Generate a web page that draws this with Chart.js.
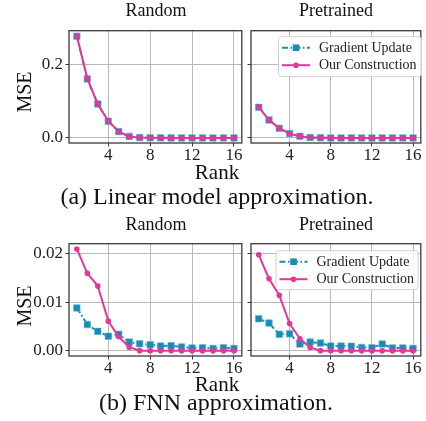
<!DOCTYPE html>
<html>
<head>
<meta charset="utf-8">
<script src="https://cdn.jsdelivr.net/npm/chart.js@4.4.1/dist/chart.umd.min.js"></script>
<style>
  html, body { margin: 0; padding: 0; background: #fff; }
  #fig { position: relative; width: 426px; height: 421px; overflow: hidden; font-family: 'Liberation Serif', serif; color: #111; }
  #fig canvas { position: absolute; }
  .txt { position: absolute; white-space: nowrap; line-height: 1; }
  .ctr { transform: translateX(-50%); }
  .rot { transform: translate(-50%, -50%) rotate(-90deg); }
</style>
</head>
<body>
<div id="fig">
  <canvas id="c-lin-rand"></canvas>
  <canvas id="c-lin-pre"></canvas>
  <canvas id="c-fnn-rand"></canvas>
  <canvas id="c-fnn-pre"></canvas>

  <div class="txt ctr" style="left:156px; top:1px; font-size:18px;">Random</div>
  <div class="txt ctr" style="left:336px; top:1px; font-size:18px;">Pretrained</div>
  <div class="txt rot" style="left:24px; top:92px; font-size:20px;">MSE</div>
  <div class="txt ctr" style="left:217px; top:162px; font-size:21px;">Rank</div>
  <div class="txt ctr" style="left:217px; top:184px; font-size:24px;">(a) Linear model approximation.</div>

  <div class="txt ctr" style="left:156px; top:215px; font-size:18px;">Random</div>
  <div class="txt ctr" style="left:336px; top:215px; font-size:18px;">Pretrained</div>
  <div class="txt rot" style="left:24px; top:306px; font-size:20px;">MSE</div>
  <div class="txt ctr" style="left:217px; top:374px; font-size:21px;">Rank</div>
  <div class="txt ctr" style="left:216px; top:390px; font-size:24px;">(b) FNN approximation.</div>
</div>

<script>
  'use strict';

  // ---- data ----
  var ranks = [1, 2, 3, 4, 5, 6, 7, 8, 9, 10, 11, 12, 13, 14, 15, 16];
  var xTicks = [4, 8, 12, 16];
  var linYTicks = [0, 0.2];
  var fnnYTicks = [0, 0.01, 0.02];

  var linRandGrad = [0.276, 0.160, 0.092, 0.045, 0.017, 0.004, 0.0008, 0.0002, 0.0001, 0, 0, 0, 0, 0, 0, 0];
  var linRandOurs = [0.277, 0.161, 0.0915, 0.046, 0.0168, 0.0038, 0.0006, 0.0001, 0, 0, 0, 0, 0, 0, 0, 0];
  var linPreGrad = [0.083, 0.0487, 0.026, 0.0118, 0.0041, 0.001, 0.0002, 0, 0, 0, 0, 0, 0, 0, 0, 0];
  var linPreOurs = [0.0835, 0.0485, 0.0262, 0.0116, 0.004, 0.001, 0.0002, 0, 0, 0, 0, 0, 0, 0, 0, 0];

  var fnnRandGrad = [0.0088, 0.0054, 0.0040, 0.0030, 0.0034, 0.0018, 0.00145, 0.00126, 0.0010, 0.00105, 0.0008, 0.0006, 0.00065, 0.0005, 0.00065, 0.0005];
  var fnnRandOurs = [0.0209, 0.0159, 0.0133, 0.0061, 0.0029, 0.00076, 0.00005, 0.00003, 0.00002, 0.00002, 0.00001, 0.00001, 0.00001, 0.00001, 0.00001, 0.00001];
  var fnnPreGrad = [0.0066, 0.0057, 0.0034, 0.0035, 0.0014, 0.0018, 0.0016, 0.0010, 0.0010, 0.00095, 0.0007, 0.00065, 0.0014, 0.0006, 0.0006, 0.0005];
  var fnnPreOurs = [0.0197, 0.0148, 0.0114, 0.0056, 0.0025, 0.0007, 0.00005, 0.00003, 0.00002, 0.00002, 0.00001, 0.00001, 0.00001, 0.00001, 0.00001, 0.00001];

  var seriesNames = ['Gradient Update', 'Our Construction'];

  var BLUE = '#1a8bb3';
  var PINK = '#e5369b';
  var GRID = '#b8b8b8';
  var FRAME = '#3a3a3a';
  var GRAD_DASH = [6, 2.5, 1.5, 2.5];
  var FONT = 'Liberation Serif';

  function points(vals) {
    return ranks.map(function (r, i) { return { x: r, y: vals[i] }; });
  }

  // frame around the plot area, like matplotlib spines
  var framePlugin = {
    id: 'frame',
    afterDraw: function (chart) {
      var a = chart.chartArea, ctx = chart.ctx;
      ctx.save();
      ctx.strokeStyle = FRAME;
      ctx.lineWidth = 1.3;
      ctx.strokeRect(a.left, a.top, a.right - a.left, a.bottom - a.top);
      ctx.restore();
    }
  };

  // legend box drawn inside the plot area
  var boxLegendPlugin = {
    id: 'boxLegend',
    afterDraw: function (chart, args, opts) {
      if (!opts.show) return;
      var a = chart.chartArea, ctx = chart.ctx;
      var bx = a.left + opts.x, by = a.top + opts.y;
      var w = opts.w, h = opts.h;
      ctx.save();
      ctx.fillStyle = 'rgba(255,255,255,0.85)';
      ctx.strokeStyle = '#d0d0d0';
      ctx.lineWidth = 1;
      ctx.beginPath();
      ctx.roundRect(bx + 0.5, by + 0.5, w, h, 3);
      ctx.fill();
      ctx.stroke();

      var styles = [
        { color: BLUE, dash: GRAD_DASH, marker: 'rect' },
        { color: PINK, dash: [], marker: 'circle' }
      ];
      ctx.font = '14px "' + FONT + '"';
      ctx.textBaseline = 'middle';
      styles.forEach(function (s, i) {
        var cy = by + 11.5 + i * 17.5;
        var x0 = bx + 4, x1 = x0 + 28;
        ctx.strokeStyle = s.color;
        ctx.lineWidth = 2;
        ctx.setLineDash(s.dash);
        ctx.beginPath();
        ctx.moveTo(x0, cy);
        ctx.lineTo(x1, cy);
        ctx.stroke();
        ctx.setLineDash([]);
        ctx.fillStyle = s.color;
        var mx = (x0 + x1) / 2;
        if (s.marker === 'rect') {
          ctx.fillRect(mx - 3.3, cy - 3.3, 6.6, 6.6);
        } else {
          ctx.beginPath();
          ctx.arc(mx, cy, 2.8, 0, Math.PI * 2);
          ctx.fill();
        }
        ctx.fillStyle = '#222';
        ctx.fillText(seriesNames[i], x1 + 9, cy + 0.5);
      });
      ctx.restore();
    }
  };

  function makePanel(id, area, gradVals, oursVals, yTicks, yRange, showYLabels, legend, yFmt) {
    var canvas = document.getElementById(id);
    var padL = 60, padT = 4, padR = 4, padB = 34;
    var w = area.w + padL + padR, h = area.h + padT + padB;
    canvas.width = w;
    canvas.height = h;
    canvas.style.width = w + 'px';
    canvas.style.height = h + 'px';
    canvas.style.left = (area.left - padL) + 'px';
    canvas.style.top = (area.top - padT) + 'px';

    return new Chart(canvas, {
      type: 'line',
      data: {
        datasets: [
          {
            label: seriesNames[1],
            data: points(oursVals),
            borderColor: PINK,
            backgroundColor: PINK,
            borderWidth: 2,
            pointStyle: 'circle',
            pointRadius: 2.8,
            pointBorderWidth: 0,
            tension: 0,
            order: 0,
          },
          {
            label: seriesNames[0],
            data: points(gradVals),
            borderColor: BLUE,
            backgroundColor: BLUE,
            borderWidth: 2,
            borderDash: GRAD_DASH,
            pointStyle: 'rect',
            pointRadius: 4.6,
            pointBorderColor: '#5fb6d4',
            pointBorderWidth: 0.6,
            tension: 0,
            order: 1,
          },
        ],
      },
      options: {
        responsive: false,
        animation: false,
        devicePixelRatio: 1,
        layout: { padding: { left: 0, top: padT, right: padR, bottom: 0 } },
        plugins: {
          legend: { display: false },
          tooltip: { enabled: false },
          boxLegend: legend,
        },
        scales: {
          x: {
            type: 'linear',
            min: 0.25,
            max: 16.75,
            afterBuildTicks: function (axis) {
              axis.ticks = xTicks.map(function (v) { return { value: v }; });
            },
            afterFit: function (axis) { axis.height = padB; },
            grid: { color: GRID, lineWidth: 1, tickColor: FRAME, tickLength: 3.5, drawTicks: true },
            border: { display: false },
            ticks: {
              color: '#222',
              font: { family: FONT, size: 17 },
              padding: -1,
              maxRotation: 0,
              autoSkip: false,
              callback: function (v) { return String(v); },
            },
          },
          y: {
            type: 'linear',
            min: yRange[0],
            max: yRange[1],
            afterBuildTicks: function (axis) {
              axis.ticks = yTicks.map(function (v) { return { value: v }; });
            },
            afterFit: function (axis) { axis.width = padL; },
            grid: { color: GRID, lineWidth: 1, tickColor: FRAME, tickLength: 3.5, drawTicks: true },
            border: { display: false },
            ticks: {
              color: '#222',
              font: { family: FONT, size: 17 },
              padding: 2.5,
              autoSkip: false,
              callback: function (v) { return showYLabels ? yFmt(v) : ''; },
            },
          },
        },
      },
      plugins: [framePlugin, boxLegendPlugin],
    });
  }

  var linRange = [-0.0139, 0.291];
  var fnnRange = [-0.00105, 0.02198];
  var fmt1 = function (v) { return v.toFixed(1); };
  var fmt2 = function (v) { return v.toFixed(2); };
  var noLegend = { show: false };

  makePanel('c-lin-rand', { left: 69, top: 22, w: 174, h: 121 }, linRandGrad, linRandOurs, linYTicks, linRange, true, noLegend, fmt1);
  makePanel('c-lin-pre', { left: 251, top: 22, w: 171, h: 121 }, linPreGrad, linPreOurs, linYTicks, linRange, false,
    { show: true, x: 27, y: 5.5, w: 143, h: 40 }, fmt1);
  makePanel('c-fnn-rand', { left: 69, top: 235, w: 174, h: 121 }, fnnRandGrad, fnnRandOurs, fnnYTicks, fnnRange, true, noLegend, fmt2);
  makePanel('c-fnn-pre', { left: 251, top: 235, w: 171, h: 121 }, fnnPreGrad, fnnPreOurs, fnnYTicks, fnnRange, false,
    { show: true, x: 24.5, y: 6.5, w: 142, h: 39 }, fmt2);
</script>
</body>
</html>
